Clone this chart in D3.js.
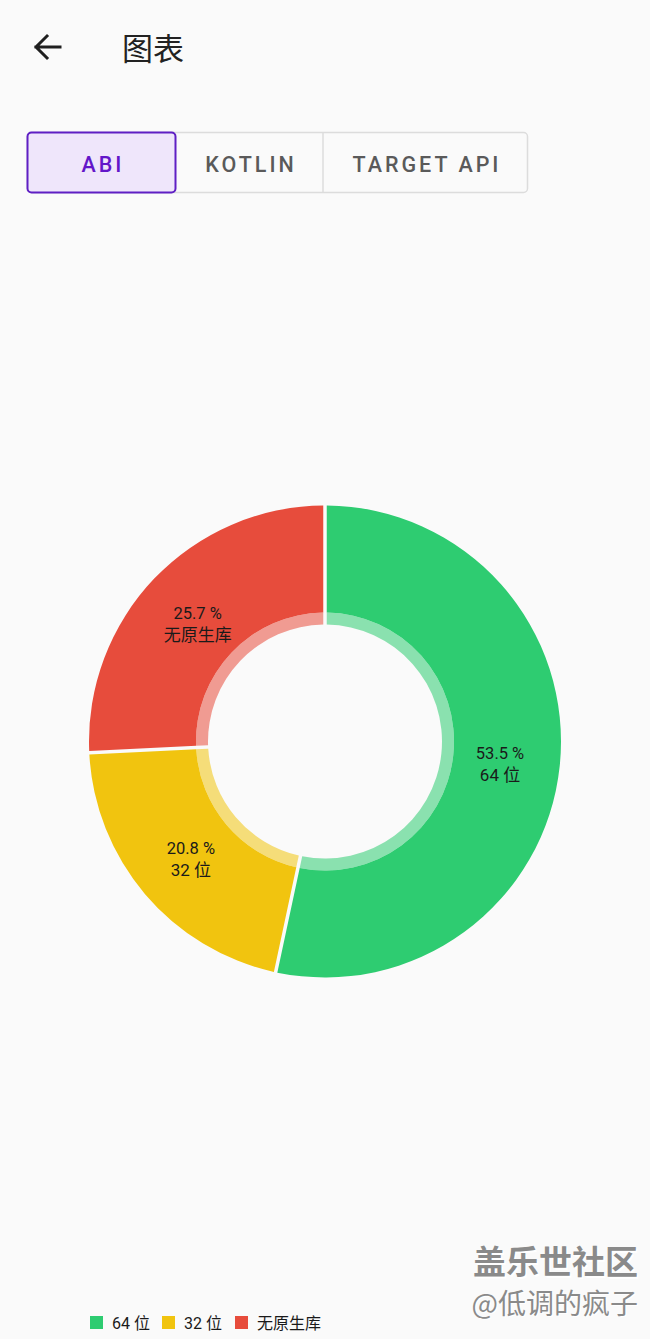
<!DOCTYPE html>
<html><head><meta charset="utf-8">
<script src="https://cdn.jsdelivr.net/npm/d3@7"></script>
<style>
html,body{margin:0;padding:0;background:#fafafa;}
svg{display:block;font-family:Roboto,"Noto Sans CJK SC",sans-serif;}
</style></head>
<body>
<svg id="c" width="650" height="1339"></svg>
<script>
const categories = ["64 位", "32 位", "无原生库"];
const values = [53.5, 20.8, 25.7];
const colors = ["#2ecc71", "#f1c40f", "#e74c3c"];
const tabs = ["ABI", "KOTLIN", "TARGET API"];
const title = "图表";

const svg = d3.select("#c");
svg.append("rect").attr("width",650).attr("height",1339).attr("fill","#fafafa");

// header
svg.append("path").attr("d","M60,47 L36,47 M47,36 L36,47 L47,58")
  .attr("fill","none").attr("stroke","#1f1f1f").attr("stroke-width",3).attr("stroke-linecap","square");
svg.append("text").attr("x",122).attr("y",60).attr("font-size",31)
  .attr("fill","#222").attr("font-family","'Noto Sans CJK SC'").text(title);

// tabs
const tabX = [27,176,323,528];
const tg = svg.append("g");
tg.append("rect").attr("x",27.5).attr("y",132.5).attr("width",500).attr("height",60).attr("rx",4)
  .attr("fill","#fafafa").attr("stroke","#dcdcdc").attr("stroke-width",1.5);
tg.append("line").attr("x1",323).attr("x2",323).attr("y1",133).attr("y2",192).attr("stroke","#dcdcdc").attr("stroke-width",1.5);
tg.append("rect").attr("x",27.5).attr("y",132.5).attr("width",148).attr("height",60).attr("rx",4)
  .attr("fill","#efe6fb").attr("stroke","#5f1fc4").attr("stroke-width",2);
tabs.forEach((t,i)=>{
  tg.append("text").attr("x",(tabX[i]+tabX[i+1])/2 + 1.5).attr("y",171.5).attr("text-anchor","middle")
    .attr("font-size",21.5).attr("font-weight",500).attr("letter-spacing",3)
    .attr("fill", i===0 ? "#6316c9" : "#5a5a5a").text(t);
});

// donut
const cx = 325, cy = 741.5;
const rOuter = 236, rInner = 117, rRing = 129;
const pie = d3.pie().sort(null).value(d=>d.v).padAngle(3.5/rOuter);
const data = pie(categories.map((c,i)=>({c, v: values[i], col: colors[i]})));
const g = svg.append("g").attr("transform",`translate(${cx},${cy})`);
const arcMain = d3.arc().innerRadius(rRing).outerRadius(rOuter).padRadius(rOuter);
const arcRing = d3.arc().innerRadius(rInner).outerRadius(rRing).padRadius(rOuter);
g.selectAll("path.m").data(data).join("path").attr("class","m")
  .attr("d",arcMain).attr("fill",d=>d.data.col);
g.selectAll("path.r").data(data).join("path").attr("class","r")
  .attr("d",arcRing).attr("fill",d=>d.data.col).attr("fill-opacity",0.55);
const arcLab = d3.arc().innerRadius(176).outerRadius(176);
const lab = g.selectAll("g.l").data(data).join("g").attr("class","l")
  .attr("transform",d=>{const [x,y]=arcLab.centroid(d); return `translate(${x},${y})`;});
lab.append("text").attr("text-anchor","middle").attr("y",-1).attr("font-size",16.5).attr("fill","#1a1a1a")
  .text(d=>d.data.v.toFixed(1)+" %");
lab.append("text").attr("text-anchor","middle").attr("y",21).attr("font-size",17).attr("fill","#1a1a1a")
  .text(d=>d.data.c);

// legend
const legX = [90,162,235];
const lg = svg.selectAll("g.leg").data(categories).join("g").attr("class","leg")
  .attr("transform",(d,i)=>`translate(${legX[i]},1316)`);
lg.append("rect").attr("width",13).attr("height",13).attr("fill",(d,i)=>colors[i]);
lg.append("text").attr("x",22).attr("y",13).attr("font-size",16).attr("fill","#1a1a1a").text(d=>d);

// watermark
const wm = svg.append("g").attr("font-family","'Noto Sans CJK SC'").attr("text-anchor","end");
wm.append("text").attr("x",638).attr("y",1274).attr("font-size",33).attr("font-weight",700)
  .attr("fill","#fff").attr("transform","translate(1.5,1.5)").text("盖乐世社区");
wm.append("text").attr("x",638).attr("y",1274).attr("font-size",33).attr("font-weight",700)
  .attr("fill","#8a8a8a").text("盖乐世社区");
wm.append("text").attr("x",638).attr("y",1314).attr("font-size",28)
  .attr("fill","#fff").attr("transform","translate(1.2,1.2)").text("@低调的疯子");
wm.append("text").attr("x",638).attr("y",1314).attr("font-size",28)
  .attr("fill","#8a8a8a").text("@低调的疯子");
</script>
</body></html>
